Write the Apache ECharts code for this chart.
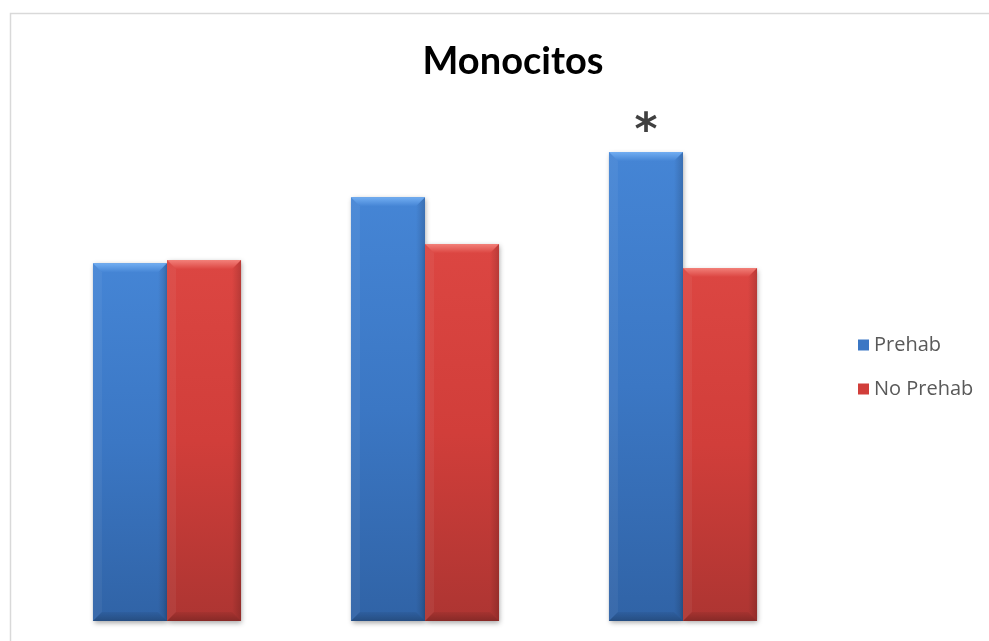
<!DOCTYPE html>
<html>
<head>
<meta charset="utf-8">
<script src="https://cdn.jsdelivr.net/npm/echarts@6/dist/echarts.min.js"></script>
<style>
  html, body { margin: 0; padding: 0; background: #ffffff; }
  #chart { width: 989px; height: 641px; }
</style>
</head>
<body>
<div id="chart"></div>
<script>
// Monocyte counts per time point, two groups
var categories = ['T1', 'T2', 'T3'];
var prehab = [0.688, 0.815, 0.902];
var noPrehab = [0.694, 0.725, 0.679];
var prehabMarks = ['', '', '*'];
var noPrehabMarks = ['', '', ''];

var palette = {
  'Prehab': { top: '#4585d5', base: '#3b77c4', bottom: '#3063a6', light: '#72aef2' },
  'No Prehab': { top: '#dc4642', base: '#d13e3a', bottom: '#ad3532', light: '#f28079' }
};

function bevelBar(name, slot) {
  var c = palette[name];
  return function (params, api) {
    var val = api.value(1);
    var band = api.size([1, 0])[0];
    var bw = band * 0.287;
    var center = api.coord([api.value(0), 0])[0];
    var x = slot === 0 ? center - bw : center;
    var yTop = api.coord([api.value(0), val])[1];
    var yBase = api.coord([api.value(0), 0])[1];
    var w = bw, h = yBase - yTop;
    var b = 9;
    var mark = api.value(2);
    var children = [
      {
        type: 'rect',
        shape: { x: x, y: yTop, width: w, height: h },
        style: {
          fill: new echarts.graphic.LinearGradient(0, 0, 0, 1, [
            { offset: 0, color: c.top },
            { offset: 0.5, color: c.base },
            { offset: 1, color: c.bottom }
          ]),
          shadowBlur: 5,
          shadowOffsetX: 1,
          shadowOffsetY: 2,
          shadowColor: 'rgba(0,0,0,0.35)'
        }
      },
      { // top bevel
        type: 'polygon',
        shape: { points: [[x, yTop], [x + w, yTop], [x + w - b, yTop + b], [x + b, yTop + b]] },
        style: {
          fill: new echarts.graphic.LinearGradient(0, 0, 0, 1, [
            { offset: 0, color: c.light },
            { offset: 1, color: c.top }
          ])
        }
      },
      { // left bevel
        type: 'polygon',
        shape: { points: [[x, yTop], [x + b, yTop + b], [x + b, yBase - b], [x, yBase]] },
        style: { fill: 'rgba(255,255,255,0.05)' }
      },
      { // right bevel
        type: 'polygon',
        shape: { points: [[x + w, yTop], [x + w - b, yTop + b], [x + w - b, yBase - b], [x + w, yBase]] },
        style: {
          fill: new echarts.graphic.LinearGradient(0, 0, 1, 0, [
            { offset: 0, color: 'rgba(0,0,0,0.0)' },
            { offset: 1, color: 'rgba(0,0,0,0.16)' }
          ])
        }
      },
      { // bottom bevel
        type: 'polygon',
        shape: { points: [[x, yBase], [x + b, yBase - b], [x + w - b, yBase - b], [x + w, yBase]] },
        style: {
          fill: new echarts.graphic.LinearGradient(0, 0, 0, 1, [
            { offset: 0, color: 'rgba(0,0,0,0.05)' },
            { offset: 1, color: 'rgba(0,0,0,0.22)' }
          ])
        }
      }
    ];
    if (mark) {
      children.push({
        type: 'text',
        style: {
          text: mark,
          x: x + w / 2,
          y: yTop + 3,
          align: 'center',
          verticalAlign: 'bottom',
          fill: '#404040',
          font: 'bold 44px "DejaVu Sans"'
        }
      });
    }
    return { type: 'group', children: children };
  };
}

function buildData(values, marks) {
  return values.map(function (v, i) { return [i, v, marks[i]]; });
}

var chart = echarts.init(document.getElementById('chart'), null, { renderer: 'canvas' });
chart.setOption({
  animation: false,
  backgroundColor: '#ffffff',
  graphic: [{
    type: 'rect',
    left: 8, top: 11,
    shape: { width: 1000, height: 700 },
    style: { fill: 'none', stroke: '#d9d9d9', lineWidth: 1.5 },
    silent: true
  }],
  title: {
    text: 'Monocitos',
    left: 508,
    textAlign: 'center',
    top: 38,
    textStyle: { fontFamily: 'Lato', fontWeight: 'bold', fontSize: 38, color: '#000000' }
  },
  legend: {
    orient: 'vertical',
    left: 853,
    top: 328,
    itemWidth: 11,
    itemHeight: 11,
    itemGap: 20,
    icon: 'rect',
    textStyle: { fontFamily: 'Open Sans', fontSize: 20, lineHeight: 24, color: '#595959', padding: [0, 0, 0, 0] },
    data: ['Prehab', 'No Prehab']
  },
  grid: { left: 38, right: 177, top: 101, bottom: 20, containLabel: false },
  xAxis: {
    type: 'category',
    data: categories,
    axisLine: { show: false },
    axisTick: { show: false },
    axisLabel: { show: false },
    splitLine: { show: false }
  },
  yAxis: {
    type: 'value',
    min: 0,
    max: 1,
    show: false,
    splitLine: { show: false }
  },
  series: [
    {
      name: 'Prehab',
      type: 'custom',
      itemStyle: { color: '#3b77c4' },
      renderItem: bevelBar('Prehab', 0),
      encode: { x: 0, y: 1 },
      data: buildData(prehab, prehabMarks)
    },
    {
      name: 'No Prehab',
      type: 'custom',
      itemStyle: { color: '#d13e3a' },
      renderItem: bevelBar('No Prehab', 1),
      encode: { x: 0, y: 1 },
      data: buildData(noPrehab, noPrehabMarks)
    }
  ]
});
</script>
</body>
</html>
